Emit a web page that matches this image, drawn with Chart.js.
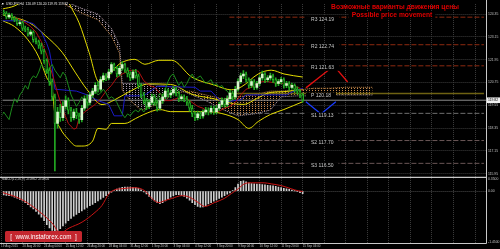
<!DOCTYPE html>
<html><head><meta charset="utf-8">
<script src="https://cdn.jsdelivr.net/npm/chart.js@4.4.1/dist/chart.umd.min.js"></script>
<style>html,body{margin:0;padding:0;background:#000;overflow:hidden}canvas{display:block}</style>
</head><body>
<canvas id="c" width="500" height="249"></canvas>
<script>
// ---------- DATA ----------
const xLabels = ["19 Aug 2015","20 Aug 20:00","24 Aug 04:00","25 Aug 12:00","26 Aug 20:00","28 Aug 04:00","31 Aug 12:00","1 Sep 20:00","3 Sep 04:00","4 Sep 12:00","7 Sep 20:00","9 Sep 04:00","10 Sep 12:00","11 Sep 20:00","15 Sep 04:00"];
const xTickVals = [0,8,16,24,32,40,48,56,64,72,80,88,96,104,112,120,128,136,144,152,160,168,176];
const priceTicks = [124.35,123.75,123.15,122.55,121.95,121.35,120.75,120.15,119.55,118.95,118.35,117.75,117.15,116.55,115.95];

const opens = [
124.50,124.45,124.40,124.20,124.30,124.15,124.05,123.85,123.90,123.60,
123.55,123.30,123.40,123.00,122.90,122.70,122.40,121.90,121.40,120.80,
120.00,118.60,119.20,118.90,119.50,119.80,119.30,118.90,119.20,119.00,
118.80,119.40,119.90,119.70,120.10,120.30,120.60,120.40,120.90,121.10,
121.00,121.30,121.70,121.50,121.20,121.50,121.70,121.40,121.20,121.00,
121.30,121.10,120.60,120.10,119.80,119.50,119.70,120.00,119.70,119.40,
119.80,120.00,120.30,120.10,120.20,120.40,120.20,119.90,120.00,119.90,
119.70,119.40,119.10,118.90,119.10,119.00,119.20,119.30,119.20,119.40,
119.20,119.40,119.60,119.80,119.60,119.90,120.20,120.00,120.40,120.80,
121.10,121.20,120.90,120.60,120.80,120.50,120.70,121.00,121.20,120.90,
121.00,121.10,120.90,120.70,120.80,120.90,120.60,120.70,120.50,120.60,
120.40,120.30,120.10];
const highs = [
124.62,124.55,124.48,124.41,124.38,124.24,124.12,124.02,123.98,123.72,
123.66,123.52,123.47,123.10,122.98,122.82,122.50,122.00,121.52,120.95,
120.15,119.45,119.60,119.75,120.05,119.95,119.45,119.35,119.40,119.15,
119.55,120.05,120.10,120.25,120.45,120.75,120.80,121.05,121.25,121.22,
121.45,121.80,121.78,121.60,121.62,121.85,121.78,121.52,121.32,121.42,
121.45,121.20,120.70,120.22,119.92,119.85,120.15,120.12,119.80,119.95,
120.15,120.45,120.42,120.35,120.55,120.50,120.30,120.12,120.10,120.02,
119.82,119.55,119.22,119.25,119.22,119.32,119.45,119.42,119.52,119.50,
119.55,119.72,119.95,119.92,120.05,120.35,120.30,120.55,120.95,121.25,
121.38,121.30,121.00,120.92,120.90,120.82,121.12,121.35,121.28,121.12,
121.25,121.20,121.00,120.92,121.02,121.00,120.82,120.80,120.72,120.68,
120.52,120.40,120.18];
const lows = [
124.35,124.28,124.10,124.12,124.05,123.95,123.75,123.76,123.48,123.42,
123.20,123.22,122.88,122.78,122.55,122.25,121.75,121.25,120.60,119.80,
116.10,118.35,118.70,118.75,119.35,119.10,118.70,118.78,118.85,118.60,
118.68,119.28,119.55,119.58,119.98,120.18,120.25,120.30,120.78,120.85,
120.90,121.20,121.38,121.05,121.10,121.40,121.28,121.05,120.85,120.92,
120.98,120.45,119.95,119.62,119.32,119.38,119.58,119.55,119.25,119.30,
119.65,119.90,119.98,119.95,120.08,120.05,119.75,119.78,119.75,119.55,
119.25,118.95,118.75,118.78,118.85,118.88,119.08,119.05,119.10,119.08,
119.10,119.28,119.48,119.45,119.48,119.78,119.85,119.88,120.30,120.70,
120.95,120.78,120.45,120.48,120.38,120.40,120.58,120.88,120.75,120.80,
120.88,120.75,120.55,120.58,120.68,120.45,120.48,120.35,120.40,120.25,
120.15,119.95,119.72];
const closes = [
124.45,124.40,124.20,124.30,124.15,124.05,123.85,123.90,123.60,123.55,
123.30,123.40,123.00,122.90,122.70,122.40,121.90,121.40,120.80,120.00,
118.60,119.20,118.90,119.50,119.80,119.30,118.90,119.20,119.00,118.80,
119.40,119.90,119.70,120.10,120.30,120.60,120.40,120.90,121.10,121.00,
121.30,121.70,121.50,121.20,121.50,121.70,121.40,121.20,121.00,121.30,
121.10,120.60,120.10,119.80,119.50,119.70,120.00,119.70,119.40,119.80,
120.00,120.30,120.10,120.20,120.40,120.20,119.90,120.00,119.90,119.70,
119.40,119.10,118.90,119.10,119.00,119.20,119.30,119.20,119.40,119.20,
119.40,119.60,119.80,119.60,119.90,120.20,120.00,120.40,120.80,121.10,
121.20,120.90,120.60,120.80,120.50,120.70,121.00,121.20,120.90,121.00,
121.10,120.90,120.70,120.80,120.90,120.60,120.70,120.50,120.60,120.40,
120.30,120.10,119.82];

// Bollinger bands (20,2) read at sampled bars
const bbUpX = [0.6,5,10,15,20,23,25.3,29,32.7,36.4,39.4,43.8,49.7,53.4,58.6,63.4,70.8,79.2,85.5,89.2,95.5,100.3,105.1,112];
const bbUp  = [124.62,124.78,125.2,125.7,126.2,125.8,124.93,123.89,122.34,120.78,121.04,121.71,121.97,121.71,121.92,121.92,121.04,120.62,120.37,120.52,121.20,121.40,121.20,121.04];
const bbMidX = [0.6,10.6,16.5,22.7,27.5,32,37.5,42.3,47.5,55,63,71,79,85.5,90,95.5,100,105,112];
const bbMid  = [124.31,123.89,123.22,122.34,121.30,120.37,119.59,119.85,120.26,120.68,120.65,120.13,119.90,119.66,119.60,119.95,120.23,120.27,120.39];
const bbLowX = [0.6,5,10,14,17,19,20,22,25,28,30,34,36,39,41,46,50,53,59,63,76,82,88,92,95.5,100,105,112];
const bbLow  = [124.0,123.7,123.0,122.1,121.0,120.4,119.1,118.34,117.77,117.41,117.41,117.67,118.34,118.29,118.60,118.60,118.86,119.07,119.33,119.22,119.22,119.12,118.8,118.34,118.70,119.07,119.33,119.74];

// Ichimoku
const tenX = [0.6,4,8,11,13,15,17,19,20,21,23,25,27,28,29,31,33,35,37,39,41,43,45,48,51,53,55,57,59,61,63,65,67,69,71,73,75,77,79,81,83,85,87,89,91,93,95,97,99,101,103,105,107,109,111,112];
const tenV = [124.35,124.25,124.0,123.7,123.4,122.9,122.2,121.2,120.7,120.2,119.3,118.6,118.3,118.35,118.9,119.2,119.4,119.6,119.9,120.3,120.6,121.0,121.2,121.4,121.35,120.85,120.6,120.5,120.2,119.8,119.8,119.9,120.0,119.9,119.7,119.5,119.4,119.2,119.2,119.25,119.4,119.5,119.7,120.1,120.4,120.5,120.7,120.8,120.8,120.75,120.7,120.7,120.65,120.55,120.45,120.3];
const kijX = [0.6,8,12,15,17,18,19,20,28,32,36,40,42,45,46,52,54,58,72,74,78,82,89,91,106,108,112];
const kijV = [124.0,124.0,123.85,123.4,122.8,122.4,121.6,120.4,120.3,120.1,119.8,119.6,119.0,119.0,120.05,120.05,120.15,120.55,120.5,120.3,120.3,119.7,119.85,120.1,120.1,120.25,120.45];
const cloudX = [0,20,25,30,36,41,44,45,48,52,56,60,64,70,76,82,88,94,100,104,110,116,122,128,134,138];
const spanA  = [125.4,125.2,124.75,124.4,124.05,123.2,122.3,120.35,119.8,119.3,119.5,119.7,120.2,120.3,120.1,119.9,120.0,120.1,120.3,120.3,120.35,120.45,120.45,120.5,120.5,120.5];
const spanB  = [125.6,125.3,124.95,124.65,124.35,123.6,122.7,120.7,120.7,120.7,120.65,120.6,120.5,120.15,119.8,119.35,119.0,119.1,119.3,120.0,120.05,120.05,120.1,120.1,120.1,120.1];
const chikouShift = 26;

// Pivot levels and forecast paths
const pivotNames  = ["R3","R2","R1","P","S1","S2","S3"];
const pivotValues = [124.19,122.74,121.63,120.18,119.13,117.70,116.50];
const pivotColors = ["#8e2a10","#8e2a10","#8e2a10","#6e6212","#6e6e6e","#6a5656","#6a5656"];
const pivotFrom = 84.8, pivotTo = 179.3;
const projUpX = [113.2,123.6,128.7], projUpY = [120.47,121.63,120.78];
const projDnX = [113.2,118.8,124.3], projDnY = [119.74,119.10,119.74];

// MACD(12,26,9)
const macdHist = [
-0.10,-0.11,-0.12,-0.13,-0.14,-0.17,-0.20,-0.24,-0.28,-0.33,
-0.39,-0.45,-0.51,-0.58,-0.66,-0.75,-0.85,-0.96,-1.06,-1.13,
-1.19,-1.16,-1.08,-1.00,-0.92,-0.85,-0.78,-0.72,-0.67,-0.62,
-0.57,-0.52,-0.47,-0.42,-0.38,-0.33,-0.28,-0.23,-0.18,-0.13,
-0.08,-0.03,0.02,0.06,0.09,0.11,0.12,0.12,0.12,0.11,
0.10,0.08,0.04,-0.02,-0.08,-0.15,-0.22,-0.28,-0.33,-0.36,
-0.33,-0.28,-0.22,-0.17,-0.13,-0.10,-0.10,-0.12,-0.15,-0.20,
-0.26,-0.33,-0.39,-0.44,-0.46,-0.45,-0.42,-0.37,-0.33,-0.29,
-0.25,-0.21,-0.17,-0.13,-0.09,-0.05,0.02,0.10,0.20,0.28,
0.30,0.27,0.24,0.22,0.21,0.20,0.20,0.19,0.18,0.17,
0.16,0.15,0.14,0.12,0.10,0.08,0.07,0.05,0.03,0.01,
-0.01,-0.04,-0.07];
const sigX = [0.6,6.9,12.8,19,22,25.3,30.1,34.9,37.5,40.1,42.3,44.9,49.7,53.4,56,58.6,60.8,63.4,67.1,69.6,73.3,75.6,79.2,82.9,85.5,88.1,90.3,92.9,97.7,100.3,104,107.7,110.3,112];
const sigV = [-0.04,-0.21,-0.5,-0.92,-1.2,-1.06,-0.89,-0.61,-0.41,-0.07,0.04,0.07,0.1,0.01,-0.21,-0.33,-0.27,-0.21,-0.13,-0.16,-0.33,-0.44,-0.33,-0.21,-0.07,0.07,0.21,0.24,0.24,0.21,0.16,0.07,0.01,-0.01];
const macdTicks = [0.35,0,-1.45];

// ---------- CHART ----------
const FONT = '"Liberation Sans", Arial, sans-serif';
Chart.defaults.font.family = FONT;
Chart.defaults.color = '#c8c8c8';
const canvas = document.getElementById('c');
const cctx = canvas.getContext('2d');
function hatch(color){
  const p = document.createElement('canvas'); p.width = 3; p.height = 2;
  const g = p.getContext('2d'); g.fillStyle = color; g.fillRect(0,0,1,1);
  return cctx.createPattern(p,'repeat');
}
const pts = (xs, ys) => xs.map((x,i)=>({x:x, y:ys[i]}));
const lastClose = closes[closes.length-1];

const datasets = [
  {type:'line', data:pts(cloudX,spanA), borderColor:'#c88a4a', borderWidth:1, borderDash:[1,1], pointRadius:0, order:30,
   fill:{target:1, above:hatch('#c8884a'), below:hatch('#a898a8')}},
  {type:'line', data:pts(cloudX,spanB), borderColor:'#a898a8', borderWidth:1, borderDash:[1,1], pointRadius:0, order:29, fill:false},
  {type:'line', data:pts(bbUpX,bbUp), borderColor:'#e4dc00', borderWidth:1, pointRadius:0, cubicInterpolationMode:'monotone', order:20, fill:false},
  {type:'line', data:pts(bbMidX,bbMid), borderColor:'#e4dc00', borderWidth:1, pointRadius:0, cubicInterpolationMode:'monotone', order:20, fill:false},
  {type:'line', data:pts(bbLowX,bbLow), borderColor:'#e4dc00', borderWidth:1, pointRadius:0, cubicInterpolationMode:'monotone', order:20, fill:false},
  {type:'line', data:pts(tenX,tenV), borderColor:'#b01010', borderWidth:1, pointRadius:0, order:19, fill:false},
  {type:'line', data:pts(kijX,kijV), borderColor:'#1a1ac8', borderWidth:1, pointRadius:0, order:19, fill:false},
  {type:'line', data:closes.map((c,i)=>({x:i-chikouShift, y:c})), borderColor:'#1c8a1c', borderWidth:1, pointRadius:0, order:18, fill:false},
  {type:'bar', data:closes.map((c,i)=>({x:i, y:[lows[i],highs[i]]})), backgroundColor:'#22a822', barThickness:1, grouped:false, order:12},
  {type:'bar', data:closes.map((c,i)=>({x:i, y:[opens[i],c]})), grouped:false, barThickness:2, order:11,
   backgroundColor:closes.map((c,i)=> c>=opens[i] ? '#d6f8cc' : '#000000'),
   borderColor:'#22b022', borderWidth:closes.map((c,i)=> c>=opens[i] ? 0 : 1), borderSkipped:false},
  {type:'line', data:[{x:0,y:lastClose},{x:181,y:lastClose}], borderColor:'#8a8a8a', borderWidth:1, pointRadius:0, order:25, fill:false},
];
pivotValues.forEach((v,i)=>{
  datasets.push({type:'line', data:[{x:pivotFrom,y:v},{x:pivotTo,y:v}], borderColor:pivotColors[i],
    borderWidth: pivotNames[i]==='P' ? 1.5 : 1, borderDash: pivotNames[i]==='P' ? [] : [5,2], pointRadius:0, order:24, fill:false});
});
datasets.push({type:'line', data:pts(projUpX,projUpY), borderColor:'#e01010', borderWidth:1.3, pointRadius:0, order:2, fill:false});
datasets.push({type:'line', data:pts(projDnX,projDnY), borderColor:'#1a3cff', borderWidth:1.3, pointRadius:0, order:2, fill:false});
datasets.push({type:'bar', yAxisID:'y2', data:macdHist.map((v,i)=>({x:i,y:v})), backgroundColor:'#d0d0d0', barThickness:1, grouped:false, order:10});
datasets.push({type:'line', yAxisID:'y2', data:pts(sigX,sigV), borderColor:'#c81414', borderWidth:1, pointRadius:0, cubicInterpolationMode:'monotone', order:3, fill:false});

const deco = {
  id:'deco',
  beforeDraw(chart){
    const c = chart.ctx; c.save(); c.fillStyle = '#000'; c.fillRect(0,0,chart.width,chart.height); c.restore();
  },
  afterDraw(chart){
    const c = chart.ctx, xs = chart.scales.x, ys = chart.scales.y, ca = chart.chartArea;
    c.save();
    // pivot labels
    c.font = '5px ' + FONT; c.textBaseline = 'middle'; c.textAlign = 'left';
    const lx = xs.getPixelForValue(115.1);
    pivotValues.forEach((v,i)=>{
      const py = ys.getPixelForValue(v);
      const t = pivotNames[i] + ' ' + v.toFixed(2);
      const w = c.measureText(t).width;
      c.fillStyle = '#000'; c.fillRect(lx-5, py-1, w+10, 6);
      c.fillStyle = '#c8c8c8'; c.fillText(t, lx, py+2);
    });
    // headline
    c.font = 'bold 6.7px ' + FONT; c.textAlign = 'center';
    const t2 = 'Possible price movement'; const w2 = c.measureText(t2).width;
    c.fillStyle = '#000'; c.fillRect(392 - w2/2 - 3, 11.5, w2 + 6, 7);
    c.fillStyle = '#e00000';
    c.fillText('Возможные варианты движения цены', 395, 7);
    c.fillText(t2, 392, 15);
    // title
    c.textAlign = 'left'; c.font = '3.3px ' + FONT; c.fillStyle = '#e8e8e8';
    c.fillRect(2,3,1.5,1.5);
    c.fillText('USDJPY,H4  120.09 120.20 119.76 119.82', 6, 4);
    // MACD label
    c.fillStyle = '#c8c8c8';
    c.fillText('MACD(12,26,9) -0.0962 -0.0804', 2, 179.5);
    // frame + separators
    c.strokeStyle = '#c8c8c8'; c.lineWidth = 1;
    c.beginPath();
    c.moveTo(ca.right+0.5, 0); c.lineTo(ca.right+0.5, ca.bottom+0.5);
    c.moveTo(0, ca.bottom+0.5); c.lineTo(ca.right+0.5, ca.bottom+0.5);
    c.stroke();
    c.lineWidth = 1.4; c.beginPath();
    const sep = chart.scales.y.bottom;
    c.moveTo(0, sep+0.5); c.lineTo(ca.right+0.5, sep+0.5); c.stroke();
    // current price label
    const py = ys.getPixelForValue(lastClose);
    c.fillStyle = '#f0f0f0'; c.fillRect(ca.right+1, py-2.8, 13, 5.6);
    c.fillStyle = '#000'; c.font = '3.4px ' + FONT; c.textAlign = 'left';
    c.fillText(lastClose.toFixed(2), ca.right+2, py+0.2);
    // logo
    c.fillStyle = '#c4262e';
    c.beginPath(); c.roundRect ? c.roundRect(5,231,77,11,1.5) : c.rect(5,231,77,11); c.fill();
    c.fillStyle = '#ffffff'; c.font = '6.3px ' + FONT; c.textAlign = 'center';
    c.fillText('[  www.instaforex.com  ]', 43.5, 236.8);
    c.restore();
  }
};

new Chart(canvas, {
  type:'line',
  data:{datasets:datasets},
  options:{
    responsive:false, animation:false, devicePixelRatio:1,
    layout:{padding:{top:1,left:0,right:0,bottom:0}},
    plugins:{legend:{display:false}, tooltip:{enabled:false}},
    scales:{
      x:{type:'linear', min:0.59, max:180.06, offset:false, position:'bottom',
         grid:{color:'#3c3c3c', drawTicks:false, offset:false}, border:{display:false, dash:[1,1]},
         afterBuildTicks(s){ s.ticks = xTickVals.map(v=>({value:v})); },
         afterFit(s){ s.height = 6; },
         ticks:{autoSkip:false, maxRotation:0, minRotation:0, align:'start', padding:1, color:'#c0c0c0', font:{size:3},
           callback(v){ const k = v/8; return (Number.isInteger(k) && k < xLabels.length) ? xLabels[k] : ''; }}},
      y:{type:'linear', position:'right', stack:'pane', stackWeight:175, min:115.79, max:124.88,
         grid:{color:'#3c3c3c', drawTicks:false}, border:{display:false, dash:[1,1]},
         afterBuildTicks(s){ s.ticks = priceTicks.map(v=>({value:v})); },
         afterFit(s){ s.width = 14; },
         ticks:{padding:2, color:'#c0c0c0', font:{size:3.4}, callback(v){ return v.toFixed(2); }}},
      y2:{type:'linear', position:'right', stack:'pane', stackWeight:67, min:-1.49, max:0.4115,
         grid:{color:(ctx)=> (ctx.tick && ctx.tick.value===0) ? '#4a4a4a' : 'rgba(0,0,0,0)', drawTicks:false}, border:{display:false, dash:[1,1]},
         afterBuildTicks(s){ s.ticks = macdTicks.map(v=>({value:v})); },
         afterFit(s){ s.width = 14; },
         ticks:{padding:2, color:'#c0c0c0', font:{size:3.4}, callback(v){ return v===0 ? '0.00' : v.toFixed(4); }}}
    }
  },
  plugins:[deco]
});
</script>
</body></html>
